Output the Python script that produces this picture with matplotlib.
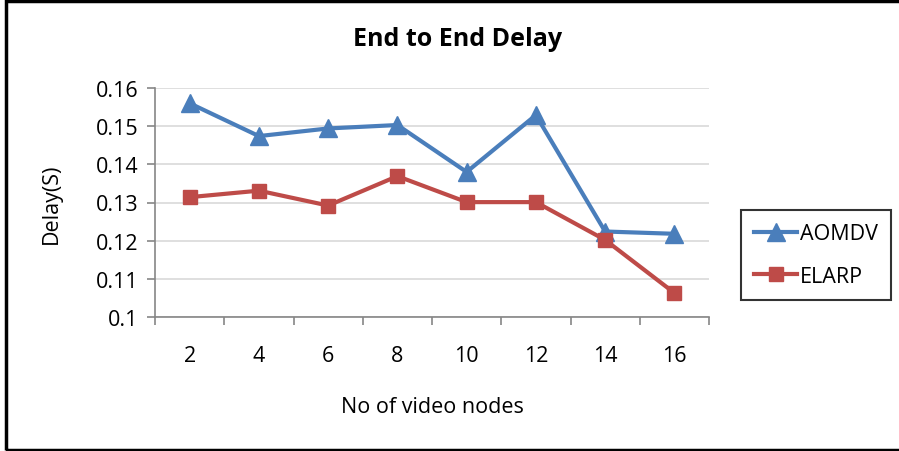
import matplotlib
matplotlib.use("Agg")
import matplotlib.pyplot as plt
from matplotlib.patches import Rectangle

nodes = [2, 4, 6, 8, 10, 12, 14, 16]
aomdv = [0.1560, 0.1474, 0.1494, 0.1503, 0.1380, 0.1529, 0.1224, 0.1218]
elarp = [0.1314, 0.1331, 0.1292, 0.1369, 0.1301, 0.1301, 0.1202, 0.1063]
yticks = [0.1, 0.11, 0.12, 0.13, 0.14, 0.15, 0.16]
ytick_labels = ["0.1", "0.11", "0.12", "0.13", "0.14", "0.15", "0.16"]

plt.rcParams['font.family'] = ['Open Sans', 'DejaVu Sans']

W, H = 899, 452
fig = plt.figure(figsize=(W / 100, H / 100), dpi=100)
ax = fig.add_axes([155 / W, 1 - 318 / H, (709 - 155) / W, (318 - 89) / H])

blue = '#4A7EBB'
red = '#BE4B48'
ax.plot(nodes, aomdv, color=blue, lw=3, marker='^', ms=13, label='AOMDV', zorder=3)
ax.plot(nodes, elarp, color=red, lw=3, marker='s', ms=10, label='ELARP', zorder=3)

fs = 15.5
ax.set_xlim(1, 17)
ax.set_ylim(0.1, 0.16)
ax.set_xticks(nodes)
ax.set_xticklabels([str(n) for n in nodes], fontsize=fs)
ax.set_xticks(list(range(1, 18, 2)), minor=True)
ax.tick_params(axis='x', which='major', length=0, pad=20)
ax.tick_params(axis='x', which='minor', length=6, width=1.2, color='#868686', direction='out')
ax.set_yticks(yticks)
ax.set_yticklabels(ytick_labels, fontsize=fs)
ax.tick_params(axis='y', length=6, width=1.2, color='#868686', direction='out', pad=6)
ax.grid(axis='y', color='#D9D9D9', lw=1.2)
ax.set_axisbelow(True)
for s in ['top', 'right']:
    ax.spines[s].set_visible(False)
for s in ['left', 'bottom']:
    ax.spines[s].set_color('#868686')
    ax.spines[s].set_linewidth(1.2)

ax.set_xlabel('No of video nodes', fontsize=fs, labelpad=22)
ax.set_ylabel('Delay(S)', fontsize=fs, labelpad=24)

fig.text(458 / W, 1 - 40 / H, 'End to End Delay', fontsize=18, fontweight='bold',
         ha='center', va='center')

leg = fig.legend(loc='center', bbox_to_anchor=(816 / W, 1 - 256 / H), fontsize=fs,
                 frameon=True, fancybox=False, edgecolor='black', handlelength=2.0,
                 handletextpad=0.1, labelspacing=1.0, borderpad=0.6)
leg.get_frame().set_linewidth(1.5)

fig.patches.append(Rectangle((6 / W, 1 / H), 1.2, 1 - 3 / H, transform=fig.transFigure,
                             fill=False, edgecolor='black', lw=2.5))

fig.savefig('out.png', dpi=100)
